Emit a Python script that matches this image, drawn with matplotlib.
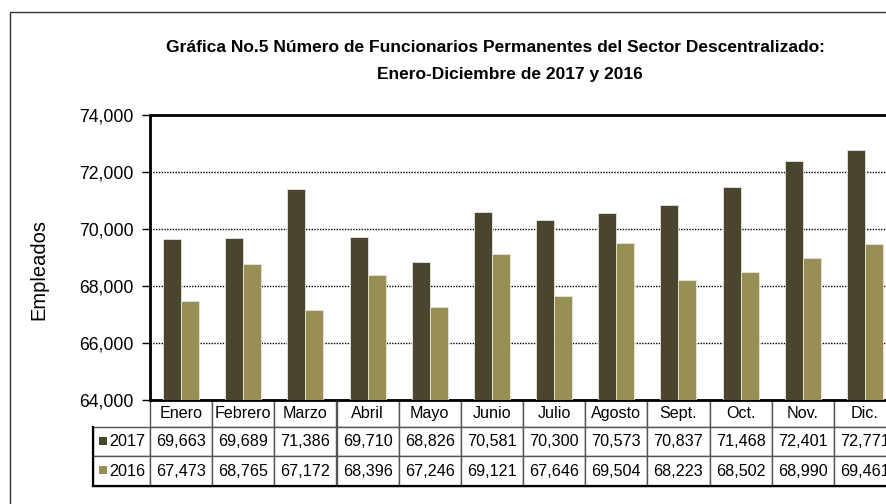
import numpy as np
import matplotlib
matplotlib.use("Agg")
import matplotlib.pyplot as plt
from matplotlib.table import Table
from matplotlib.patches import Rectangle
from matplotlib.lines import Line2D
from matplotlib.ticker import FuncFormatter

# datos
meses = ["Enero", "Febrero", "Marzo", "Abril", "Mayo", "Junio", "Julio",
         "Agosto", "Sept.", "Oct.", "Nov.", "Dic."]
valores_2017 = [69663, 69689, 71386, 69710, 68826, 70581, 70300,
                70573, 70837, 71468, 72401, 72771]
valores_2016 = [67473, 68765, 67172, 68396, 67246, 69121, 67646,
                69504, 68223, 68502, 68990, 69461]
series = ["2017", "2016"]
colores = ["#4a452d", "#988f57"]

plt.rcParams["font.family"] = ["Liberation Sans", "DejaVu Sans"]

W, H = 886, 504
fig = plt.figure(figsize=(W / 100, H / 100), dpi=100)

# marco exterior del grafico
fig.patches.append(Rectangle((10 / W, -0.1), 1.2, 1 - 12 / H + 0.1,
                             transform=fig.transFigure, fill=False,
                             edgecolor="#333333", linewidth=1.0))

x0, x1 = 150, 896
y_top, y_bot = 115, 400
ax = fig.add_axes([x0 / W, 1 - y_bot / H, (x1 - x0) / W, (y_bot - y_top) / H])

x = np.arange(len(meses))
ancho = 0.29
ax.bar(x - ancho / 2, valores_2017, ancho, color=colores[0],
       edgecolor="#e8e6d8", linewidth=0.6, zorder=3)
ax.bar(x + ancho / 2, valores_2016, ancho, color=colores[1],
       edgecolor="#e8e6d8", linewidth=0.6, zorder=3)

ax.set_xlim(-0.5, len(meses) - 0.5)
ax.set_ylim(64000, 74000)
ax.set_yticks(np.arange(64000, 74001, 2000))
ax.yaxis.set_major_formatter(FuncFormatter(lambda v, p: f"{int(v):,}"))
ax.set_xticks([])
ax.tick_params(axis="y", labelsize=12.7, length=6, width=1, direction="out", pad=6)
ax.grid(axis="y", linestyle=(0, (1, 1)), color="black", linewidth=1.0, zorder=0)
for lado in ["left", "top", "bottom"]:
    ax.spines[lado].set_linewidth(2)
    ax.spines[lado].set_color("black")
ax.spines["right"].set_visible(False)

fig.text(39 / W, 1 - 270 / H, "Empleados", rotation=90, ha="center", va="center",
         fontsize=14.5)

# tabla de datos
ancho_col = 1.0 / len(meses)
ancho_lbl = (150 - 93) / (x1 - x0)
alto_ax = y_bot - y_top
altos = [27 / alto_ax, 29 / alto_ax, 30 / alto_ax]
tabla = Table(ax, bbox=[-ancho_lbl, -sum(altos), 1 + ancho_lbl, sum(altos)])
filas = [meses,
         [f"{v:,}" for v in valores_2017],
         [f"{v:,}" for v in valores_2016]]
for r in range(3):
    for c in range(-1, len(meses)):
        w = ancho_lbl if c == -1 else ancho_col
        if c == -1:
            txt = "" if r == 0 else series[r - 1]
            loc = "left"
        else:
            txt = filas[r][c]
            loc = "center"
        cel = tabla.add_cell(r, c + 1, w, altos[r], text=txt, loc=loc,
                             edgecolor="#555555", facecolor="white")
        cel.set_linewidth(1.0)
        cel.get_text().set_fontsize(11.6)
        if c == -1:
            cel.PAD = 0.29
        if r == 0 and c == -1:
            cel.visible_edges = ""
tabla.auto_set_font_size(False)
ax.add_table(tabla)

# borde exterior de la tabla mas marcado
base = -sum(altos)
ax.add_line(Line2D([-ancho_lbl, -ancho_lbl], [base, -altos[0]], color="black",
                   linewidth=1.6, transform=ax.transAxes, clip_on=False, zorder=5))
ax.add_line(Line2D([-ancho_lbl, 1.05], [base, base], color="black",
                   linewidth=1.6, transform=ax.transAxes, clip_on=False, zorder=5))

# cuadritos de leyenda en la tabla
fig.canvas.draw()
for r in (1, 2):
    cel = tabla[r, 0]
    bb = cel.get_window_extent(fig.canvas.get_renderer())
    lado = 8
    fig.patches.append(Rectangle(((bb.x0 + 6) / W, (bb.y0 + bb.height / 2 - lado / 2 + 1) / H),
                                 lado / W, lado / H, transform=fig.transFigure,
                                 facecolor=colores[r - 1], edgecolor="none"))

# titulo
fig.text(495 / W, 1 - 48 / H,
         "Gráfica No.5 Número de Funcionarios Permanentes del Sector Descentralizado:",
         ha="center", va="center", fontsize=12.5, fontweight="bold")
fig.text(510 / W, 1 - 74 / H, "Enero-Diciembre de 2017 y 2016",
         ha="center", va="center", fontsize=12.5, fontweight="bold")

fig.savefig("out.png", dpi=100)
